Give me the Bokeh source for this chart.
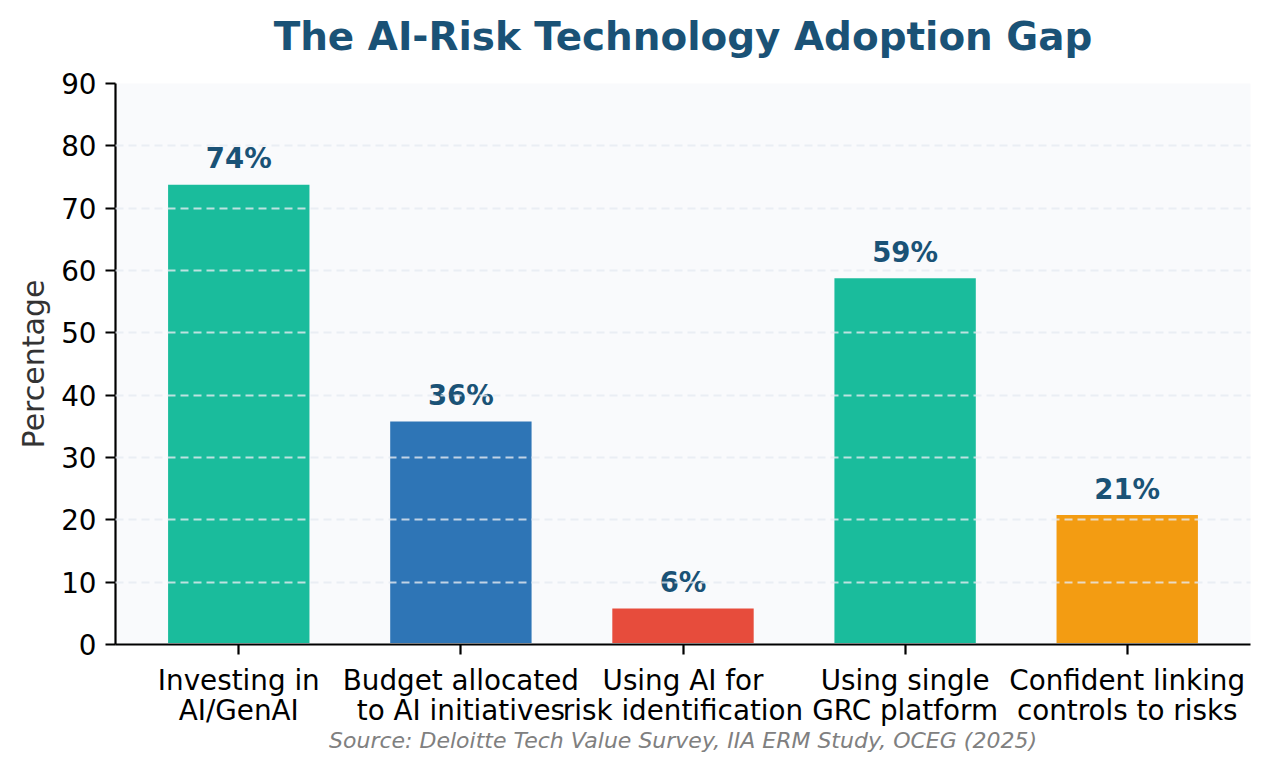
from bokeh.plotting import figure
from bokeh.models import ColumnDataSource, FixedTicker, Range1d, Title
from bokeh.core.properties import value
from bokeh.embed import file_html
from bokeh.resources import INLINE

# Survey figures (percent of respondents)
categories = [
    "Investing in\nAI/GenAI",
    "Budget allocated\nto AI initiatives",
    "Using AI for\nrisk identification",
    "Using single\nGRC platform",
    "Confident linking\ncontrols to risks",
]
percentages = [74, 36, 6, 59, 21]
bar_colors = ["#1abc9c", "#2e75b6", "#e74c3c", "#1abc9c", "#f39c12"]
y_ticks = [0, 10, 20, 30, 40, 50, 60, 70, 80, 90]

FONT = "DejaVu Sans"
DARK_BLUE = "#1a5276"
PANEL_BG = "#f9fafc"

xs = list(range(len(categories)))
src = ColumnDataSource(dict(
    x=xs,
    top=percentages,
    color=bar_colors,
    label_y=[v + 4.0 for v in percentages],
    label=[f"{v}%" for v in percentages],
))

p = figure(
    width=1271, height=770,
    x_range=Range1d(-0.555, 4.555), y_range=Range1d(0, 90),
    output_backend="svg", toolbar_location=None, title=None,
    min_border_left=115, min_border_right=21,
    min_border_top=83, min_border_bottom=126,
)

# blank strip between the frame and the heading
p.add_layout(Title(text=" ", text_font_size="4px", standoff=18), "above")
# chart heading, centred over the plotting area
p.add_layout(Title(
    text="The AI-Risk Technology Adoption Gap", align="center",
    text_font=FONT, text_font_size="38.9px", text_font_style="bold",
    text_color=DARK_BLUE, standoff=0,
), "above")

p.background_fill_color = PANEL_BG
p.border_fill_color = "white"
p.outline_line_color = None

p.vbar(x="x", top="top", bottom=0, width=0.65, fill_color="color",
       line_color=PANEL_BG, line_width=3, source=src)

p.text(x="x", y="label_y", text="label", source=src,
       text_font=value(FONT), text_font_size="27.5px", text_font_style="bold",
       text_color=DARK_BLUE, text_align="center", text_baseline="alphabetic")

# horizontal dashed grid drawn over the bars
p.xgrid.visible = False
p.ygrid.ticker = FixedTicker(ticks=y_ticks)
p.ygrid.grid_line_color = "#e6ebf1"
p.ygrid.grid_line_alpha = 0.8
p.ygrid.grid_line_dash = "8 5"
p.ygrid.grid_line_width = 2
p.ygrid.level = "overlay"

for ax in (p.xaxis[0], p.yaxis[0]):
    ax.axis_line_color = "black"
    ax.axis_line_width = 2.2
    ax.major_tick_line_color = "black"
    ax.major_tick_line_width = 2.2
    ax.major_tick_out = 10
    ax.major_tick_in = 0
    ax.minor_tick_line_color = None
    ax.major_label_text_font = FONT
    ax.major_label_text_font_size = "27.8px"
    ax.major_label_text_color = "black"
    ax.major_label_standoff = 9

p.yaxis.ticker = FixedTicker(ticks=y_ticks)
p.yaxis.axis_label = "Percentage"
p.yaxis.axis_label_text_font = FONT
p.yaxis.axis_label_text_font_size = "30px"
p.yaxis.axis_label_text_font_style = "normal"
p.yaxis.axis_label_text_color = "#333333"
p.yaxis.axis_label_standoff = 7

p.xaxis.ticker = FixedTicker(ticks=xs)
p.xaxis.major_label_overrides = {i: c for i, c in enumerate(categories)}
p.xaxis.major_label_text_line_height = 0.92
p.xaxis.axis_label = "Source: Deloitte Tech Value Survey, IIA ERM Study, OCEG (2025)"
p.xaxis.axis_label_text_font = FONT
p.xaxis.axis_label_text_font_size = "22px"
p.xaxis.axis_label_text_font_style = "italic"
p.xaxis.axis_label_text_color = "#808080"
p.xaxis.axis_label_standoff = -2

open("out.html", "w").write(file_html(p, INLINE))
